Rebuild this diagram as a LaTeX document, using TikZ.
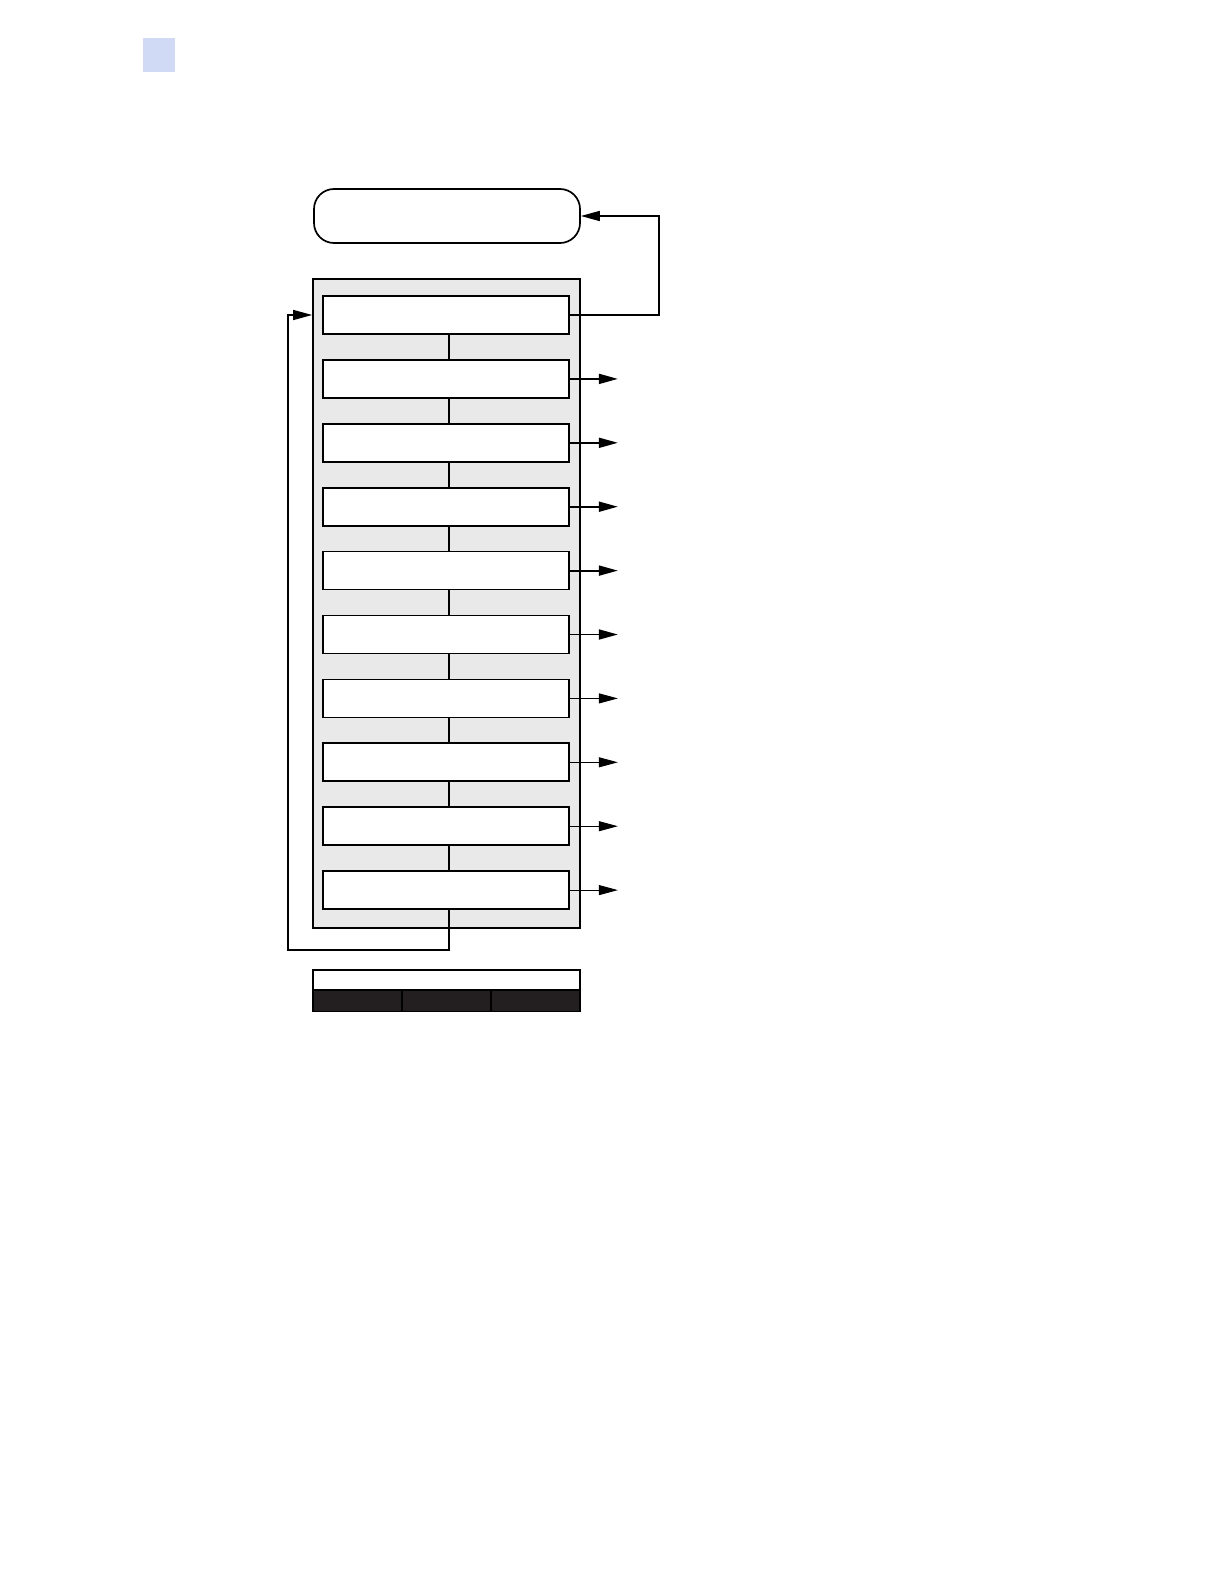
\documentclass[tikz,border=0pt]{standalone}
\usetikzlibrary{arrows.meta}
\definecolor{tabblue}{RGB}{208,218,244}
\definecolor{panelgray}{RGB}{233,233,233}
\definecolor{keydark}{RGB}{35,31,32}
\tikzset{
    stepbox/.style={draw, fill=white, line width=0.85pt, minimum width=123pt, minimum height=19pt, inner sep=0pt},
    keycell/.style={draw, fill=keydark, line width=0.85pt, minimum width=44.5pt, minimum height=10.5pt, inner sep=0pt}
}
\begin{document}
\begin{tikzpicture}[x=0.5pt, y=-0.5pt, >={Triangle[length=9.5pt, width=5pt]}]
        \useasboundingbox (0, 0) rectangle (1224, 1584);

        % page tab
        \fill[tabblue] (143, 38) rectangle (175, 72);

        \node[draw, rounded corners=10pt, line width=0.85pt, minimum width=133pt, minimum height=27pt] at (447, 216) (r) {};
        \node[draw, fill=panelgray, line width=0.85pt, minimum width=133.5pt, minimum height=324.5pt, inner sep=0pt] at (446.5, 603.5) (panel) {};

        \node[stepbox] at (446, 315 + 0 * 63.9)  (a) {};
        \node[stepbox] at (446, 315 + 1 * 63.9)  (b) {};
        \node[stepbox] at (446, 315 + 2 * 63.9)  (c) {};
        \node[stepbox] at (446, 315 + 3 * 63.9)  (d) {};
        \node[stepbox] at (446, 315 + 4 * 63.9)  (e) {};
        \node[stepbox] at (446, 315 + 5 * 63.9)  (f) {};
        \node[stepbox] at (446, 315 + 6 * 63.9)  (g) {};
        \node[stepbox] at (446, 315 + 7 * 63.9)  (h) {};
        \node[stepbox] at (446, 315 + 8 * 63.9)  (i) {};
        \node[stepbox] at (446, 315 + 9 * 63.9)  (j) {};

        \coordinate (fb) at (659, 216);
        \coordinate (lb) at (449, 950);
        \coordinate (lt) at (288, 315);

        % links between steps
        \draw[line width=0.85pt]  ([xshift=1.5pt]a.south) -- ([xshift=1.5pt]b.north);
        \draw[line width=0.85pt]  ([xshift=1.5pt]b.south) -- ([xshift=1.5pt]c.north);
        \draw[line width=0.85pt]  ([xshift=1.5pt]c.south) -- ([xshift=1.5pt]d.north);
        \draw[line width=0.85pt]  ([xshift=1.5pt]d.south) -- ([xshift=1.5pt]e.north);
        \draw[line width=0.85pt]  ([xshift=1.5pt]e.south) -- ([xshift=1.5pt]f.north);
        \draw[line width=0.85pt]  ([xshift=1.5pt]f.south) -- ([xshift=1.5pt]g.north);
        \draw[line width=0.85pt]  ([xshift=1.5pt]g.south) -- ([xshift=1.5pt]h.north);
        \draw[line width=0.85pt]  ([xshift=1.5pt]h.south) -- ([xshift=1.5pt]i.north);
        \draw[line width=0.85pt]  ([xshift=1.5pt]i.south) -- ([xshift=1.5pt]j.north);

        % back to the top
        \draw[->, line width=0.85pt]  (a.east) -| (fb) -- (r.east);

        \draw[->, line width=0.9pt]  (b.east) -- ++(48, 0);
        \draw[->, line width=0.9pt]  (c.east) -- ++(48, 0);
        \draw[->, line width=0.9pt]  (d.east) -- ++(48, 0);
        \draw[->, line width=0.9pt]  (e.east) -- ++(48, 0);
        \draw[->, line width=0.9pt]  (f.east) -- ++(48, 0);
        \draw[->, line width=0.45pt] (g.east) -- ++(48, 0);
        \draw[->, line width=0.45pt] (h.east) -- ++(48, 0);
        \draw[->, line width=0.45pt] (i.east) -- ++(48, 0);
        \draw[->, line width=0.45pt] (j.east) -- ++(48, 0);

        % loop round
        \draw[->, line width=0.7pt]  ([xshift=1.5pt]j.south) -- (lb) -| (lt) -- (panel.west |- lt);

        % key
        \node[draw, fill=white, line width=0.85pt, minimum width=133.5pt, minimum height=10pt, inner sep=0pt] at (446.5, 980) (key) {};
        \node[keycell] at (357.5, 1001)  (k1) {};
        \node[keycell] at (446.5, 1001)  (k2) {};
        \node[keycell] at (535.5, 1001)  (k3) {};

    \end{tikzpicture}
\end{document}
